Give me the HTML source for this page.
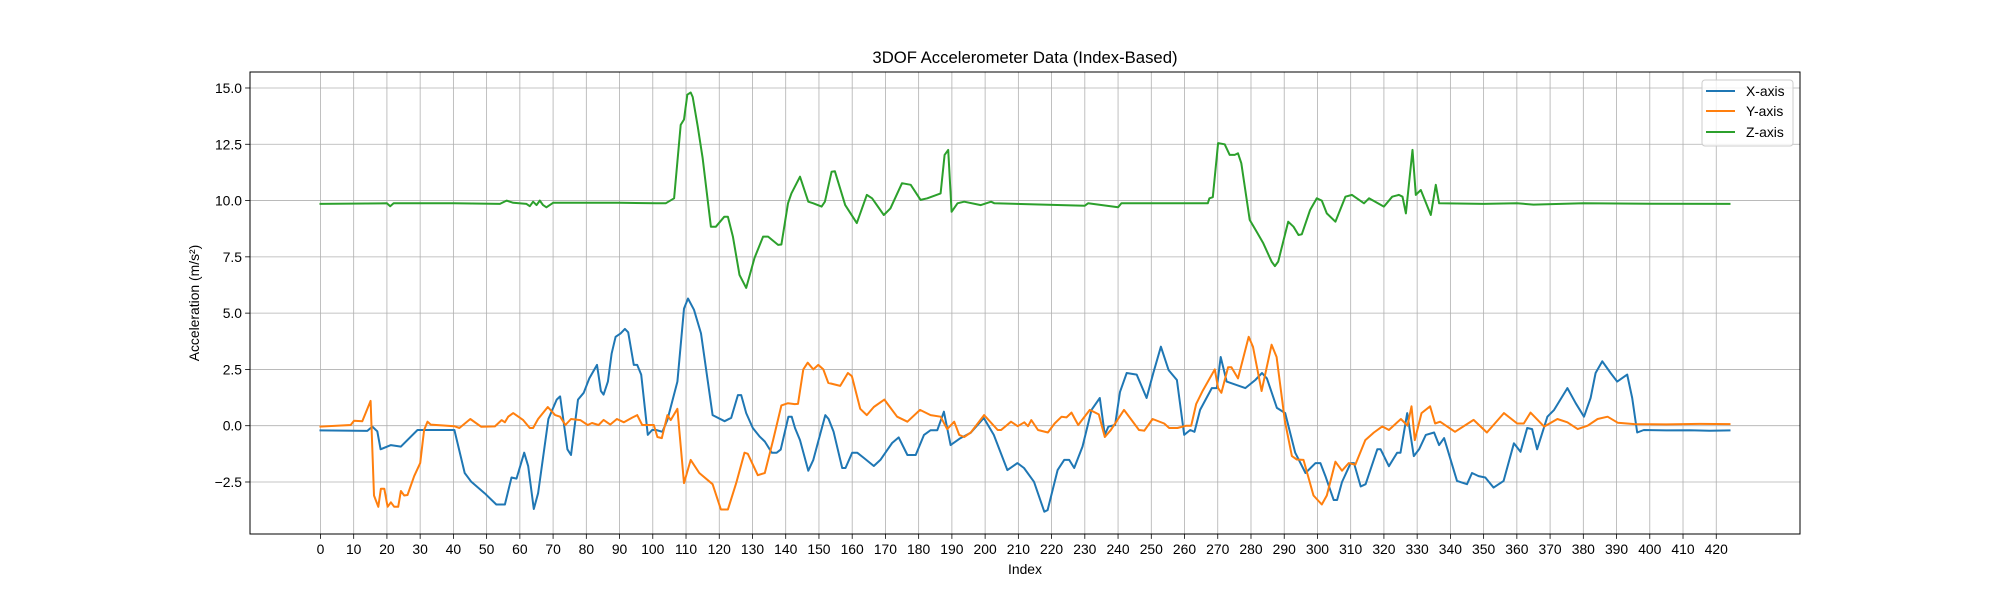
<!DOCTYPE html>
<html><head><meta charset="utf-8"><style>
body{margin:0;background:#fff;}
svg{display:block;font-family:"Liberation Sans","DejaVu Sans",sans-serif;}
</style></head><body>
<svg id="chart" width="2000" height="600" viewBox="0 0 2000 600">
<rect x="0" y="0" width="2000" height="600" fill="#fff"/>
<text x="1025" y="63" font-size="16.7" text-anchor="middle" fill="#000">3DOF Accelerometer Data (Index-Based)</text>
<g id="grid"></g>
<g id="series"></g>
<rect x="250" y="72" width="1550" height="462" fill="none" stroke="#000" stroke-width="1"/>
<g id="ticks"></g>
<text x="1025" y="574" font-size="13.9" text-anchor="middle">Index</text>
<text transform="translate(199,303) rotate(-90)" font-size="13.9" text-anchor="middle">Acceleration (m/s²)</text>
<g>
<rect x="1702" y="80" width="91" height="66" rx="3" fill="#fff" fill-opacity="0.8" stroke="#ccc"/>
<g><line x1="1706" y1="91" x2="1735" y2="91" stroke="#1f77b4" stroke-width="2"/><text x="1746" y="96" font-size="13.9">X-axis</text></g>
<g><line x1="1706" y1="111" x2="1735" y2="111" stroke="#ff7f0e" stroke-width="2"/><text x="1746" y="116" font-size="13.9">Y-axis</text></g>
<g><line x1="1706" y1="132" x2="1735" y2="132" stroke="#2ca02c" stroke-width="2"/><text x="1746" y="137" font-size="13.9">Z-axis</text></g>
</g>
</svg>
<script>
const xTickLabels=[0,10,20,30,40,50,60,70,80,90,100,110,120,130,140,150,160,170,180,190,200,210,220,230,240,250,260,270,280,290,300,310,320,330,340,350,360,370,380,390,400,410,420];
const yTickLabels=[-2.5,0,2.5,5,7.5,10,12.5,15];
const xAxisIdx=[0,14.1,15.6,17.1,18.1,21.2,24.2,29.2,40.3,43.4,45.4,49.4,52.9,55.5,57.5,59,61.3,62.5,64.2,65.5,68.6,71.1,72.1,74.3,75.4,77.5,79.2,80.9,83.2,84.4,85.2,86.5,87.6,88.8,90.3,91.6,92.6,94.3,95.3,96.5,98.5,99.8,101,102.9,104.4,107.4,109.4,110.6,112.4,114.5,118,121.6,123.6,125.6,126.6,128.1,130.1,132.2,133.7,135.8,137.3,138.5,140.8,141.8,142.8,144.3,146.8,148.3,151.9,152.9,154.4,157,158,160,161.5,163.5,166.5,168.5,172,174,176.6,179.1,181.6,183.6,185.6,187.6,189.6,192.6,195.6,199.6,202.6,206.7,209.7,211.7,214.7,217.8,218.8,221.8,223.8,225.3,226.8,229.3,232,234.5,236,237.1,239.1,240.6,242.6,245.6,248.6,250.6,252.9,255.2,257.7,259.9,261.7,263,264.7,268.2,269.7,270.9,272.7,278.3,281.3,283.3,284.8,287.8,290.3,293.3,296.4,299.4,300.9,302.4,304.9,305.9,307.4,310,311,313,314.5,318,319,321.5,324,325,327,329,330.6,332.6,335.1,336.6,338.1,342,345,346.5,348.5,350.5,353,356,359.1,361.1,363.1,364.6,366.1,369.2,371.2,375.2,377.7,380.2,382.2,383.7,385.7,388.2,390.2,393.2,394.7,396.2,398.2,405,412,418,424];
const xAxisVal=[-0.21,-0.23,-0.04,-0.25,-1.05,-0.86,-0.93,-0.19,-0.19,-2.1,-2.49,-3.0,-3.5,-3.5,-2.3,-2.35,-1.2,-1.8,-3.7,-3.0,0.3,1.16,1.3,-1.05,-1.3,1.16,1.46,2.1,2.7,1.54,1.38,1.96,3.2,3.95,4.1,4.3,4.15,2.7,2.7,2.27,-0.41,-0.19,-0.19,-0.27,0.26,1.96,5.2,5.65,5.15,4.1,0.47,0.2,0.35,1.36,1.36,0.56,-0.1,-0.49,-0.7,-1.2,-1.2,-1.06,0.4,0.4,-0.1,-0.64,-2.0,-1.52,0.47,0.3,-0.27,-1.88,-1.88,-1.2,-1.2,-1.43,-1.79,-1.52,-0.77,-0.52,-1.3,-1.3,-0.41,-0.2,-0.2,0.62,-0.86,-0.55,-0.32,0.34,-0.41,-1.97,-1.66,-1.88,-2.49,-3.82,-3.75,-1.97,-1.52,-1.52,-1.88,-0.93,0.7,1.23,-0.41,-0.04,0.03,1.5,2.34,2.27,1.23,2.34,3.51,2.47,2.03,-0.41,-0.19,-0.27,0.7,1.67,1.67,3.05,1.96,1.67,2.03,2.34,2.1,0.79,0.56,-1.2,-2.1,-1.66,-1.66,-2.24,-3.3,-3.3,-2.5,-1.66,-1.66,-2.7,-2.6,-1.05,-1.05,-1.8,-1.2,-1.2,0.56,-1.35,-1.05,-0.41,-0.3,-0.86,-0.55,-2.45,-2.6,-2.1,-2.24,-2.3,-2.75,-2.45,-0.78,-1.16,-0.1,-0.15,-1.05,0.4,0.7,1.67,1.0,0.4,1.23,2.34,2.86,2.34,1.96,2.27,1.23,-0.3,-0.19,-0.21,-0.2,-0.22,-0.21];
const yAxisIdx=[0,9.1,10.1,12.6,15.1,16.1,17.4,18.2,19.2,20.2,21.2,22.2,23.4,24.2,25.2,26.2,28.2,30,31.2,32.2,33.2,40.3,41.8,45.1,48.4,52.5,54.5,55.5,56.5,58,61,63,64,65.5,68.4,70.6,72.1,73.7,75.4,78.2,80.4,81.7,83.7,85.2,87.2,89.2,91.3,93.8,95.3,96.8,100.3,101.4,102.7,104.4,105.4,107.4,109.4,111.4,114,118,120.5,122.6,125.1,127.6,128.6,131.6,133.7,136.2,138.7,140.7,142.7,143.7,145.3,146.6,148.3,149.8,151.3,152.8,156.4,158.7,159.9,162.4,164.4,166.5,169.7,173.5,176.6,180.4,183.6,186.6,188.6,190.7,192.2,193.7,195.7,199.7,203.8,204.8,207.8,209.8,211.8,212.9,213.9,215.9,218.9,220.9,223,224.5,226,228,231.5,234.2,236,237.8,241.8,246.3,247.9,250.4,253.9,255.4,257.9,260.5,262,263.5,265.5,269.1,270.1,271.1,273.1,274.1,276.1,279.3,280.6,283.2,286.2,287.7,290.2,292.3,293.8,295.8,298.8,301.3,302.8,305.4,307.4,309.4,311.4,314.4,317,319.5,321.5,325.1,327.1,328.3,329.3,331.3,333.9,335.4,336.9,341.4,347,351,356.1,360.1,362.1,364.1,368.2,372.2,375.2,378.3,381.3,384.3,387.3,390.4,395.4,405,415,424];
const yAxisVal=[-0.04,0.03,0.22,0.2,1.1,-3.1,-3.6,-2.8,-2.8,-3.6,-3.4,-3.6,-3.6,-2.9,-3.1,-3.08,-2.24,-1.66,-0.19,0.18,0.05,-0.02,-0.1,0.3,-0.05,-0.03,0.25,0.15,0.4,0.56,0.25,-0.1,-0.1,0.3,0.83,0.47,0.4,0.03,0.3,0.25,0.03,0.12,0.03,0.26,0.05,0.3,0.15,0.36,0.47,0.03,0.03,-0.5,-0.55,0.47,0.25,0.75,-2.55,-1.52,-2.1,-2.6,-3.72,-3.72,-2.55,-1.2,-1.25,-2.2,-2.1,-0.64,0.9,1.0,0.96,0.97,2.5,2.8,2.5,2.7,2.5,1.9,1.77,2.34,2.2,0.75,0.47,0.83,1.16,0.4,0.18,0.7,0.47,0.4,-0.15,0.18,-0.41,-0.5,-0.3,0.47,-0.19,-0.19,0.18,-0.02,0.15,-0.02,0.25,-0.19,-0.3,0.1,0.4,0.37,0.58,0.03,0.7,0.5,-0.5,-0.2,0.7,-0.19,-0.22,0.3,0.1,-0.1,-0.1,0.0,0.0,0.97,1.56,2.5,1.67,1.46,2.6,2.6,2.1,3.95,3.5,1.54,3.6,3.05,0.2,-1.35,-1.5,-1.52,-3.1,-3.5,-3.1,-1.6,-2.0,-1.66,-1.73,-0.64,-0.3,-0.03,-0.19,0.3,0.0,0.86,-0.64,0.56,0.86,0.1,0.18,-0.27,0.26,-0.3,0.56,0.1,0.1,0.58,-0.04,0.3,0.15,-0.15,0.0,0.3,0.4,0.13,0.07,0.06,0.08,0.07];
const zAxisIdx=[0,20,21,22,40,54,56,58,62,63,64,65,66,67,68,70,90,101,103.9,106.4,108.4,109.4,110.4,111.4,112,113.5,115,117.5,119,121.5,122.6,124.1,126.1,128.1,130.6,133.2,134.7,137.7,138.7,140.7,141.7,144.3,146.8,148.3,150.8,151.8,153.8,154.8,157.9,161.4,164.4,166,169.5,171.5,175,177.6,180.6,182.6,186.6,187.8,188.9,189.9,191.7,193.7,198.7,201.8,202.8,230,231,240,241,267,267.5,268.5,270.1,272.1,273.6,275.1,276.1,277.1,279.6,281.7,283.7,286.2,287.2,288.2,291.2,292.8,294.3,295.3,297.8,299.8,301.3,302.8,305.4,308.4,310.4,314,315.5,320,322.5,324.5,325.6,326.6,328.6,329.6,331.1,334.1,335.6,336.6,350,360,365,380,400,424];
const zAxisVal=[9.85,9.88,9.75,9.88,9.88,9.85,10.0,9.9,9.85,9.75,9.95,9.8,10.0,9.8,9.7,9.9,9.9,9.88,9.88,10.1,13.36,13.6,14.7,14.8,14.6,13.3,11.9,8.84,8.84,9.28,9.28,8.4,6.7,6.12,7.45,8.4,8.4,8.03,8.05,9.88,10.32,11.06,9.95,9.88,9.73,9.95,11.28,11.3,9.8,9.0,10.25,10.1,9.36,9.65,10.77,10.7,10.03,10.1,10.32,12.03,12.25,9.5,9.88,9.95,9.8,9.95,9.88,9.77,9.88,9.7,9.88,9.88,10.1,10.15,12.55,12.5,12.03,12.03,12.1,11.66,9.14,8.62,8.1,7.29,7.09,7.29,9.06,8.84,8.47,8.5,9.58,10.1,10.0,9.43,9.06,10.17,10.25,9.88,10.1,9.73,10.17,10.25,10.17,9.43,12.25,10.25,10.47,9.36,10.7,9.88,9.85,9.88,9.82,9.88,9.86,9.85];
const NS='http://www.w3.org/2000/svg';
const L=250,R=1800,T=72,B=534,XMIN=-21.2,XMAX=445.2,YMIN=-4.81,YMAX=15.71;
function sx(v){return L+(v-XMIN)/(XMAX-XMIN)*(R-L);}
function sy(v){return B-(v-YMIN)/(YMAX-YMIN)*(B-T);}
function mk(tag,attrs,parent){const e=document.createElementNS(NS,tag);for(const k in attrs)e.setAttribute(k,attrs[k]);parent.appendChild(e);return e;}
const grid=document.getElementById('grid'),ticks=document.getElementById('ticks'),series=document.getElementById('series');
xTickLabels.forEach(v=>{const x=sx(v);
const g=mk('line',{x1:x,y1:T,x2:x,y2:B,stroke:'#b0b0b0','stroke-width':0.8},grid);


const t=mk('line',{x1:x,y1:B,x2:x,y2:B+4.9,stroke:'#000','stroke-width':0.8},ticks);


const l=mk('text',{x:x,y:B+20,'font-size':13.9,'text-anchor':'middle'},ticks);l.textContent=String(v);


});
yTickLabels.forEach(v=>{const y=sy(v);
const g=mk('line',{x1:L,y1:y,x2:R,y2:y,stroke:'#b0b0b0','stroke-width':0.8},grid);


const t=mk('line',{x1:L-4.9,y1:y,x2:L,y2:y,stroke:'#000','stroke-width':0.8},ticks);


const l=mk('text',{x:L-8,y:y+5,'font-size':13.9,'text-anchor':'end'},ticks);l.textContent=(v<0?'\u2212':'')+Math.abs(v).toFixed(1);


});
function line(idx,val,color,name){const pts=idx.map((i,k)=>sx(i).toFixed(1)+','+sy(val[k]).toFixed(1)).join(' ');
const p=mk('polyline',{points:pts,fill:'none',stroke:color,'stroke-width':2,'stroke-linejoin':'round','stroke-linecap':'square'},series);

}
line(xAxisIdx,xAxisVal,'#1f77b4','x-axis-line');
line(yAxisIdx,yAxisVal,'#ff7f0e','y-axis-line');
line(zAxisIdx,zAxisVal,'#2ca02c','z-axis-line');
</script>
</body></html>
